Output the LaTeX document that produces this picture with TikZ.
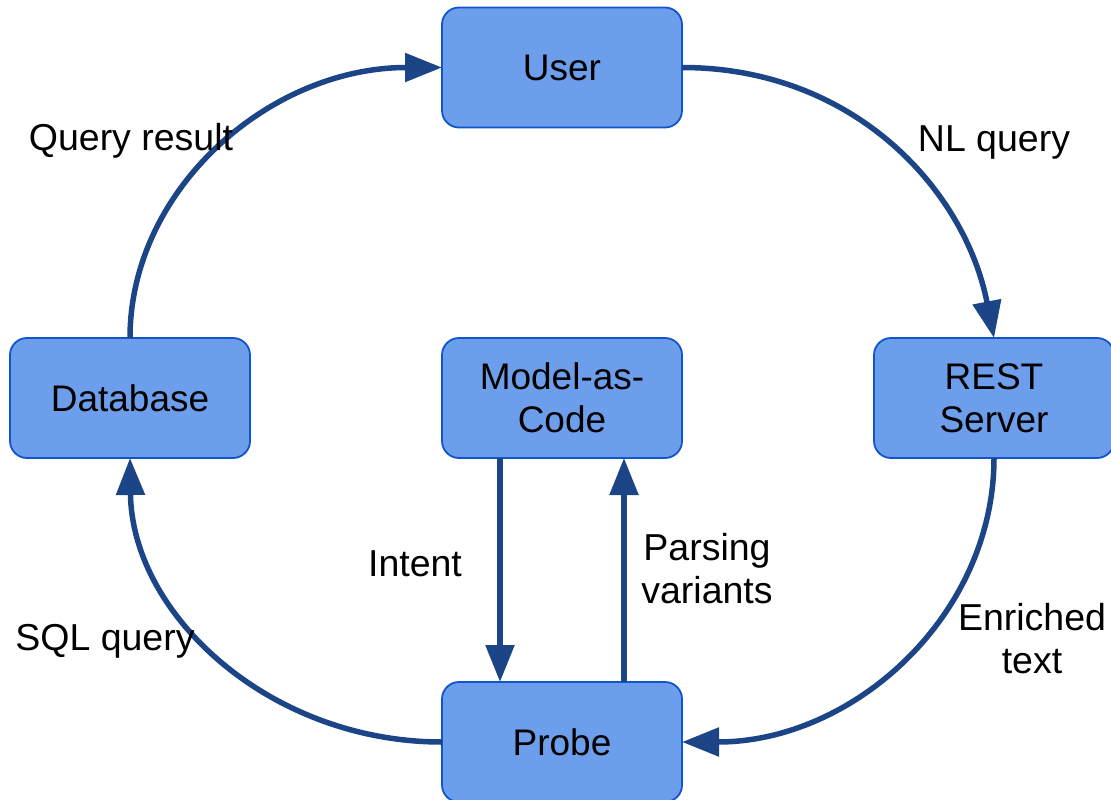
\documentclass[tikz,border=0pt]{standalone}
\usepackage{fontspec}
\setmainfont{Liberation Sans}
\usetikzlibrary{arrows.meta}
\definecolor{boxfill}{HTML}{6D9EEB}
\definecolor{boxline}{HTML}{1155CC}
\definecolor{flow}{HTML}{1C4587}
\tikzset{
  stage/.style={draw=boxline, line width=1.8pt, fill=boxfill, rounded corners=17pt,
    minimum width=240pt, minimum height=120pt, outer sep=0pt, inner sep=0pt,
    align=center, font=\fontsize{37}{43}\selectfont},
  lbl/.style={align=center, inner sep=0pt, font=\fontsize{37.5}{43}\selectfont},
  flowline/.style={draw=flow, line width=5.5pt,
    -{Triangle[length=37pt,width=28pt]}},
}
\begin{document}
\begin{tikzpicture}[x=1pt,y=-1pt]
  \useasboundingbox (0,0) rectangle (1111,800);

  % stages of the pipeline
  \node[stage] (user)  at (562,67.5) {User};
  \node[stage] (db)    at (130,398)  {Database};
  \node[stage] (mac)   at (562,398)  {Model-as-\\Code};
  \node[stage] (rest)  at (994,398)  {REST\\Server};
  \node[stage] (probe) at (562,742)  {Probe};

  % outer loop
  \draw[flowline] (db.north) .. controls +(0,-149) and +(-172,0) .. (user.west);
  \draw[flowline] (user.east) .. controls +(172,0) and +(-29,-148) .. (rest.north);
  \draw[flowline] (rest.south) .. controls +(0,157) and +(172,0) .. (probe.east);
  \draw[flowline] (probe.west) .. controls +(-172,0) and +(2,157) .. (db.south);

  % inner exchange between probe and model
  \draw[flowline] ([xshift=-62pt]mac.south) -- ([xshift=-62pt]probe.north);
  \draw[flowline] ([xshift=62pt]probe.north) -- ([xshift=62pt]mac.south);

  % connector labels (base = baseline of the last line)
  \node[lbl, anchor=base] (lq)  at (131,150)  {Query result};
  \node[lbl, anchor=base] (ln)  at (994,151)  {NL query};
  \node[lbl, anchor=base] (ls)  at (105,650)  {SQL query};
  \node[lbl, anchor=base] (le)  at (1032,673) {Enriched\\text};
  \node[lbl, anchor=base] (li)  at (415,576)  {Intent};
  \node[lbl, anchor=base] (lp)  at (707,603)  {Parsing\\variants};
\end{tikzpicture}
\end{document}
